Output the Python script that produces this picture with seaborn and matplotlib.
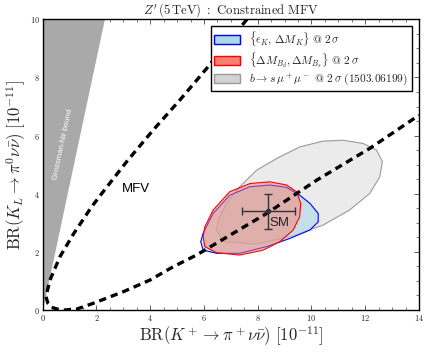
import numpy as np
import pandas as pd
import matplotlib
matplotlib.use("Agg")
import matplotlib.pyplot as plt
from matplotlib.patches import Patch
from matplotlib.ticker import MultipleLocator, FuncFormatter
import seaborn as sns

# ---- data ----
# MFV dashed curve (upper branch -> origin -> lower branch)
mfv_x = [7.6, 6.10, 5.10, 4.11, 3.12, 2.25, 1.82, 1.14, 0.64, 0.27, 0.12, 0.20, 0.33, 0.55, 0.83, 1.26,
         1.88, 3.0, 3.99, 4.86, 5.72, 8.33, 10.2, 12.17, 14.0]
mfv_y = [10.0, 8.31, 7.22, 6.19, 5.10, 4.07, 3.55, 2.61, 1.83, 1.03, 0.46, 0.22, 0.09, 0.03, 0.0, 0.03,
         0.23, 0.63, 1.03, 1.49, 1.89, 3.32, 4.47, 5.56, 6.70]

# b -> s mu mu region (grey)
bsmm_x = [6.47, 6.71, 7.96, 9.19, 10.43, 11.42, 12.17, 12.54, 12.64, 12.42, 11.92, 11.17, 10.43,
          9.56, 8.70, 7.96, 7.33, 6.84, 6.53]
bsmm_y = [2.75, 2.35, 2.27, 2.52, 2.92, 3.44, 4.01, 4.58, 5.10, 5.50, 5.73, 5.84, 5.81,
          5.61, 5.21, 4.81, 4.24, 3.67, 3.09]

# eps_K, Delta M_K region (blue)
epsk_x = [5.88, 5.97, 6.47, 7.33, 8.33, 9.19, 9.94, 10.25, 10.25, 9.94, 9.56, 9.07, 8.45,
          7.71, 6.96, 6.34, 5.97]
epsk_y = [2.35, 2.06, 1.95, 1.95, 2.18, 2.46, 2.75, 3.03, 3.32, 3.67, 3.95, 4.22, 4.30,
          4.24, 3.95, 3.32, 2.64]

# Delta M_Bd, Delta M_Bs region (red)
dmb_x = [5.97, 6.03, 6.47, 7.33, 8.20, 8.82, 9.32, 9.56, 9.60, 9.44, 9.07, 8.45, 7.71,
         6.96, 6.34, 6.03]
dmb_y = [2.52, 2.18, 1.97, 1.89, 2.06, 2.35, 2.75, 3.21, 3.67, 4.07, 4.30, 4.41, 4.35,
         4.07, 3.44, 2.86]

# Grossman-Nir bound wedge
gn_x = [0.0, 0.0, 2.3]
gn_y = [0.0, 10.0, 10.0]

# SM point
sm_x, sm_xerr = 8.4, 1.0
sm_y, sm_yerr = 3.4, 0.6

xticks = [0, 2, 4, 6, 8, 10, 12, 14]
yticks = [0, 2, 4, 6, 8, 10]

legend_labels = [r"$\{\epsilon_K,\,\Delta M_K\}\ @\ 2\,\sigma$",
                 r"$\{\Delta M_{B_d},\Delta M_{B_s}\}\ @\ 2\,\sigma$",
                 r"$b\to s\,\mu^+\mu^-\ @\ 2\,\sigma\ \mathrm{(1503.06199)}$"]

# ---- figure ----
sns.set_style("ticks")
plt.rcParams["mathtext.fontset"] = "cm"
plt.rcParams["font.family"] = ["DejaVu Sans"]

fig = plt.figure(figsize=(4.30, 3.53), dpi=100)
ax = fig.add_axes([0.0993, 0.1218, 0.8751, 0.8235])

ax.fill(gn_x, gn_y, color="#a9a9a9", lw=0, zorder=1)
ax.text(0.74, 5.7, "Grossman-Nir bound", color="white", fontsize=5.6, rotation=78,
        ha="center", va="center", family="Liberation Sans", zorder=2)

ax.fill(bsmm_x, bsmm_y, facecolor=(211/255, 211/255, 211/255, 0.45), edgecolor="#9a9a9a", lw=0.8, zorder=2)
ax.fill(epsk_x, epsk_y, facecolor=(173/255, 216/255, 230/255, 0.6), edgecolor="blue", lw=0.8, zorder=3)
ax.fill(dmb_x, dmb_y, facecolor=(250/255, 128/255, 114/255, 0.5), edgecolor="red", lw=0.8, zorder=4)

df = pd.DataFrame({"x": mfv_x, "y": mfv_y})
sns.lineplot(data=df, x="x", y="y", sort=False, estimator=None, color="black", lw=2.4,
             linestyle=(0, (2.2, 1.5)), ax=ax, zorder=5)

ax.errorbar([sm_x], [sm_y], xerr=[sm_xerr], yerr=[sm_yerr], fmt="o", ms=3, color="#333333",
            ecolor="#333333", elinewidth=1.0, capsize=3, capthick=1.0, zorder=6)
ax.text(8.42, 2.9, "SM", fontsize=9.5, family="Liberation Sans", color="#222222", zorder=7)
ax.text(2.95, 4.05, "MFV", fontsize=9.5, family="Liberation Sans", color="black", zorder=7)

ax.set_xlim(0, 14)
ax.set_ylim(0, 10)
ax.set_xticks(xticks)
ax.set_yticks(yticks)
ax.xaxis.set_minor_locator(MultipleLocator(0.5))
ax.yaxis.set_minor_locator(MultipleLocator(0.5))
fmt = FuncFormatter(lambda v, p: r"$%d$" % round(v))
ax.xaxis.set_major_formatter(fmt)
ax.yaxis.set_major_formatter(fmt)
ax.tick_params(which="both", direction="in", top=True, right=True, labelsize=6, pad=2, color="#444444")
ax.tick_params(which="major", length=3.5, width=0.6)
ax.tick_params(which="minor", length=2, width=0.5)
for s in ax.spines.values():
    s.set_visible(True)
    s.set_color("black")
    s.set_linewidth(1.0)

ax.set_xlabel(r"$\mathrm{BR}(K^+\to\pi^+\nu\bar\nu)\ [10^{-11}]$", fontsize=12, labelpad=1)
ax.set_ylabel(r"$\mathrm{BR}(K_L\to\pi^0\nu\bar\nu)\ [10^{-11}]$", fontsize=12, labelpad=1)
ax.set_title(r"$Z^\prime\,(5\,\mathrm{TeV})\ :\ \mathrm{Constrained\ MFV}$", fontsize=9.2, pad=2)

handles = [Patch(facecolor="#add8e6", edgecolor="blue", lw=1.0),
           Patch(facecolor="#fa8072", edgecolor="red", lw=1.0),
           Patch(facecolor="#d3d3d3", edgecolor="#9a9a9a", lw=1.0)]
leg = ax.legend(handles, legend_labels, loc="upper right", fontsize=8.2, frameon=True,
                fancybox=False, framealpha=1, edgecolor="black", borderpad=0.3,
                handlelength=2.3, handleheight=0.75, labelspacing=0.15, handletextpad=0.8,
                borderaxespad=0, bbox_to_anchor=(0.981, 0.976))
leg.get_frame().set_linewidth(1.0)
leg.set_zorder(10)

fig.savefig("out.png", dpi=100)
